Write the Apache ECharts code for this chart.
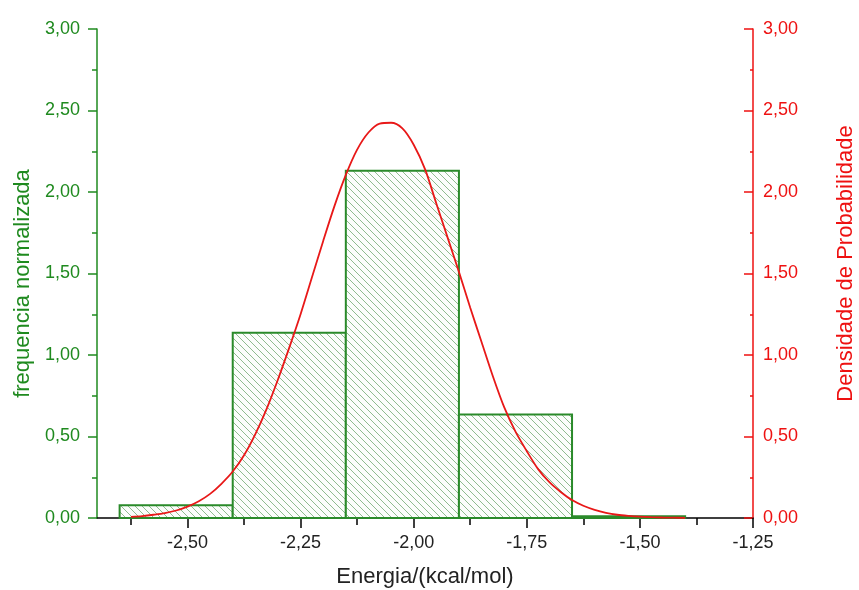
<!DOCTYPE html>
<html>
<head>
<meta charset="utf-8">
<script src="https://cdn.jsdelivr.net/npm/echarts@6/dist/echarts.min.js"></script>
<style>
  html, body { margin: 0; padding: 0; background: #fff; }
  #chart { width: 859px; height: 590px; }
</style>
</head>
<body>
<div id="chart"></div>
<script>
// histogram bins (energia, kcal/mol) and normalised frequency
var binStart = [-2.65, -2.40, -2.15, -1.90, -1.65];
var binEnd = [-2.40, -2.15, -1.90, -1.65, -1.40];
var freq = [0.078, 1.136, 2.130, 0.635, 0.010];

// density curve, every 0.025
var curveX = [-2.625, -2.600, -2.575, -2.550, -2.525, -2.500, -2.475, -2.450, -2.425, -2.400,
              -2.375, -2.350, -2.325, -2.300, -2.275, -2.250, -2.225, -2.200, -2.175, -2.150,
              -2.125, -2.100, -2.075, -2.050, -2.025, -2.000, -1.975, -1.950, -1.925, -1.900,
              -1.875, -1.850, -1.825, -1.800, -1.775, -1.750, -1.725, -1.700, -1.675, -1.650,
              -1.625, -1.600, -1.575, -1.550, -1.525, -1.500, -1.475, -1.450, -1.425, -1.400];
var curveY = [0.007, 0.012, 0.020, 0.030, 0.046, 0.070, 0.103, 0.148, 0.210, 0.285,
              0.385, 0.515, 0.670, 0.850, 1.045, 1.250, 1.475, 1.700, 1.915, 2.105,
              2.260, 2.365, 2.420, 2.425, 2.390, 2.290, 2.140, 1.930, 1.720, 1.510,
              1.290, 1.080, 0.870, 0.680, 0.530, 0.410, 0.300, 0.220, 0.160, 0.110,
              0.075, 0.050, 0.032, 0.020, 0.013, 0.008, 0.005, 0.003, 0.002, 0.001];

var xMajorTicks = [-2.50, -2.25, -2.00, -1.75, -1.50, -1.25];
var xMinorTicks = [-2.625, -2.375, -2.125, -1.875, -1.625, -1.375];

var green = '#1f8a1f';
var red = '#ee1111';

// hatch pattern for the bars
var hatch = document.createElement('canvas');
hatch.width = 7;
hatch.height = 7;
var hc = hatch.getContext('2d');
hc.fillStyle = '#fbfdfb';
hc.fillRect(0, 0, 7, 7);
hc.strokeStyle = '#8fbb8f';
hc.lineWidth = 1;
hc.beginPath();
hc.moveTo(-1, -1); hc.lineTo(8, 8);
hc.moveTo(-1, 6); hc.lineTo(1, 8);
hc.moveTo(6, -1); hc.lineTo(8, 1);
hc.stroke();

function comma(v) {
    return v.toFixed(2).replace('.', ',');
}

var bars = binStart.map(function (s, i) { return [s, binEnd[i], freq[i]]; });
var curve = curveX.map(function (x, i) { return [x, curveY[i]]; });

var chart = echarts.init(document.getElementById('chart'));

var option = {
    animation: false,
    grid: { left: 97, right: 106, top: 29, bottom: 72, outerBoundsMode: 'none' },
    xAxis: [
        {
            type: 'value',
            min: -2.7,
            max: -1.25,
            position: 'bottom',
            name: 'Energia/(kcal/mol)',
            nameLocation: 'middle',
            nameGap: 48,
            nameTextStyle: { color: '#222', fontSize: 22, fontFamily: 'Liberation Sans' },
            axisLine: { onZero: false, lineStyle: { color: '#000', width: 1.5 } },
            axisTick: { length: 10, customValues: xMajorTicks, lineStyle: { color: '#000', width: 1.5 } },
            axisLabel: {
                customValues: xMajorTicks,
                color: '#222', fontSize: 18, fontFamily: 'Liberation Sans', margin: 16,
                formatter: comma
            },
            splitLine: { show: false }
        },
        {
            type: 'value',
            min: -2.7,
            max: -1.25,
            position: 'bottom',
            axisLine: { show: false },
            axisTick: { length: 7, customValues: xMinorTicks, lineStyle: { color: '#000', width: 1.5 } },
            axisLabel: { show: false },
            splitLine: { show: false }
        }
    ],
    yAxis: [
        {
            type: 'value',
            min: 0,
            max: 3,
            interval: 0.5,
            position: 'left',
            name: 'frequencia normalizada',
            nameLocation: 'middle',
            nameGap: 62,
            nameTextStyle: { color: green, fontSize: 22, fontFamily: 'Liberation Sans', padding: [0, 20, 0, 0] },
            axisLine: { show: true, onZero: false, lineStyle: { color: green, width: 1.5 } },
            axisTick: { length: 9, lineStyle: { color: green, width: 1.5 } },
            minorTick: { show: true, splitNumber: 2, length: 5, lineStyle: { color: green, width: 1.5 } },
            axisLabel: { color: green, fontSize: 18, fontFamily: 'Liberation Sans', margin: 17, formatter: comma },
            splitLine: { show: false }
        },
        {
            type: 'value',
            min: 0,
            max: 3,
            interval: 0.5,
            position: 'right',
            name: 'Densidade de Probabilidade',
            nameLocation: 'middle',
            nameGap: 82,
            nameTextStyle: { color: red, fontSize: 22, fontFamily: 'Liberation Sans', padding: [0, 0, 0, 20] },
            axisLine: { show: true, onZero: false, lineStyle: { color: red, width: 1.5 } },
            axisTick: { inside: true, length: 9, lineStyle: { color: red, width: 1.5 } },
            minorTick: { show: true, splitNumber: 2, length: 3, lineStyle: { color: red, width: 1.5 } },
            axisLabel: { color: red, fontSize: 18, fontFamily: 'Liberation Sans', margin: 10, formatter: comma },
            splitLine: { show: false }
        }
    ],
    series: [
        {
            name: 'frequencia',
            type: 'custom',
            xAxisIndex: 0,
            yAxisIndex: 0,
            encode: { x: [0, 1], y: 2 },
            data: bars,
            renderItem: function (params, api) {
                var p0 = api.coord([api.value(0), api.value(2)]);
                var p1 = api.coord([api.value(1), 0]);
                return {
                    type: 'rect',
                    shape: { x: p0[0], y: p0[1], width: p1[0] - p0[0], height: p1[1] - p0[1] },
                    style: {
                        fill: { image: hatch, repeat: 'repeat' },
                        stroke: '#2a8a2a',
                        lineWidth: 2
                    }
                };
            },
            z: 2
        },
        {
            name: 'densidade',
            type: 'line',
            xAxisIndex: 0,
            yAxisIndex: 1,
            data: curve,
            smooth: 0.3,
            showSymbol: false,
            lineStyle: { color: '#e81818', width: 1.8 },
            z: 3
        }
    ]
};

chart.setOption(option);
</script>
</body>
</html>
